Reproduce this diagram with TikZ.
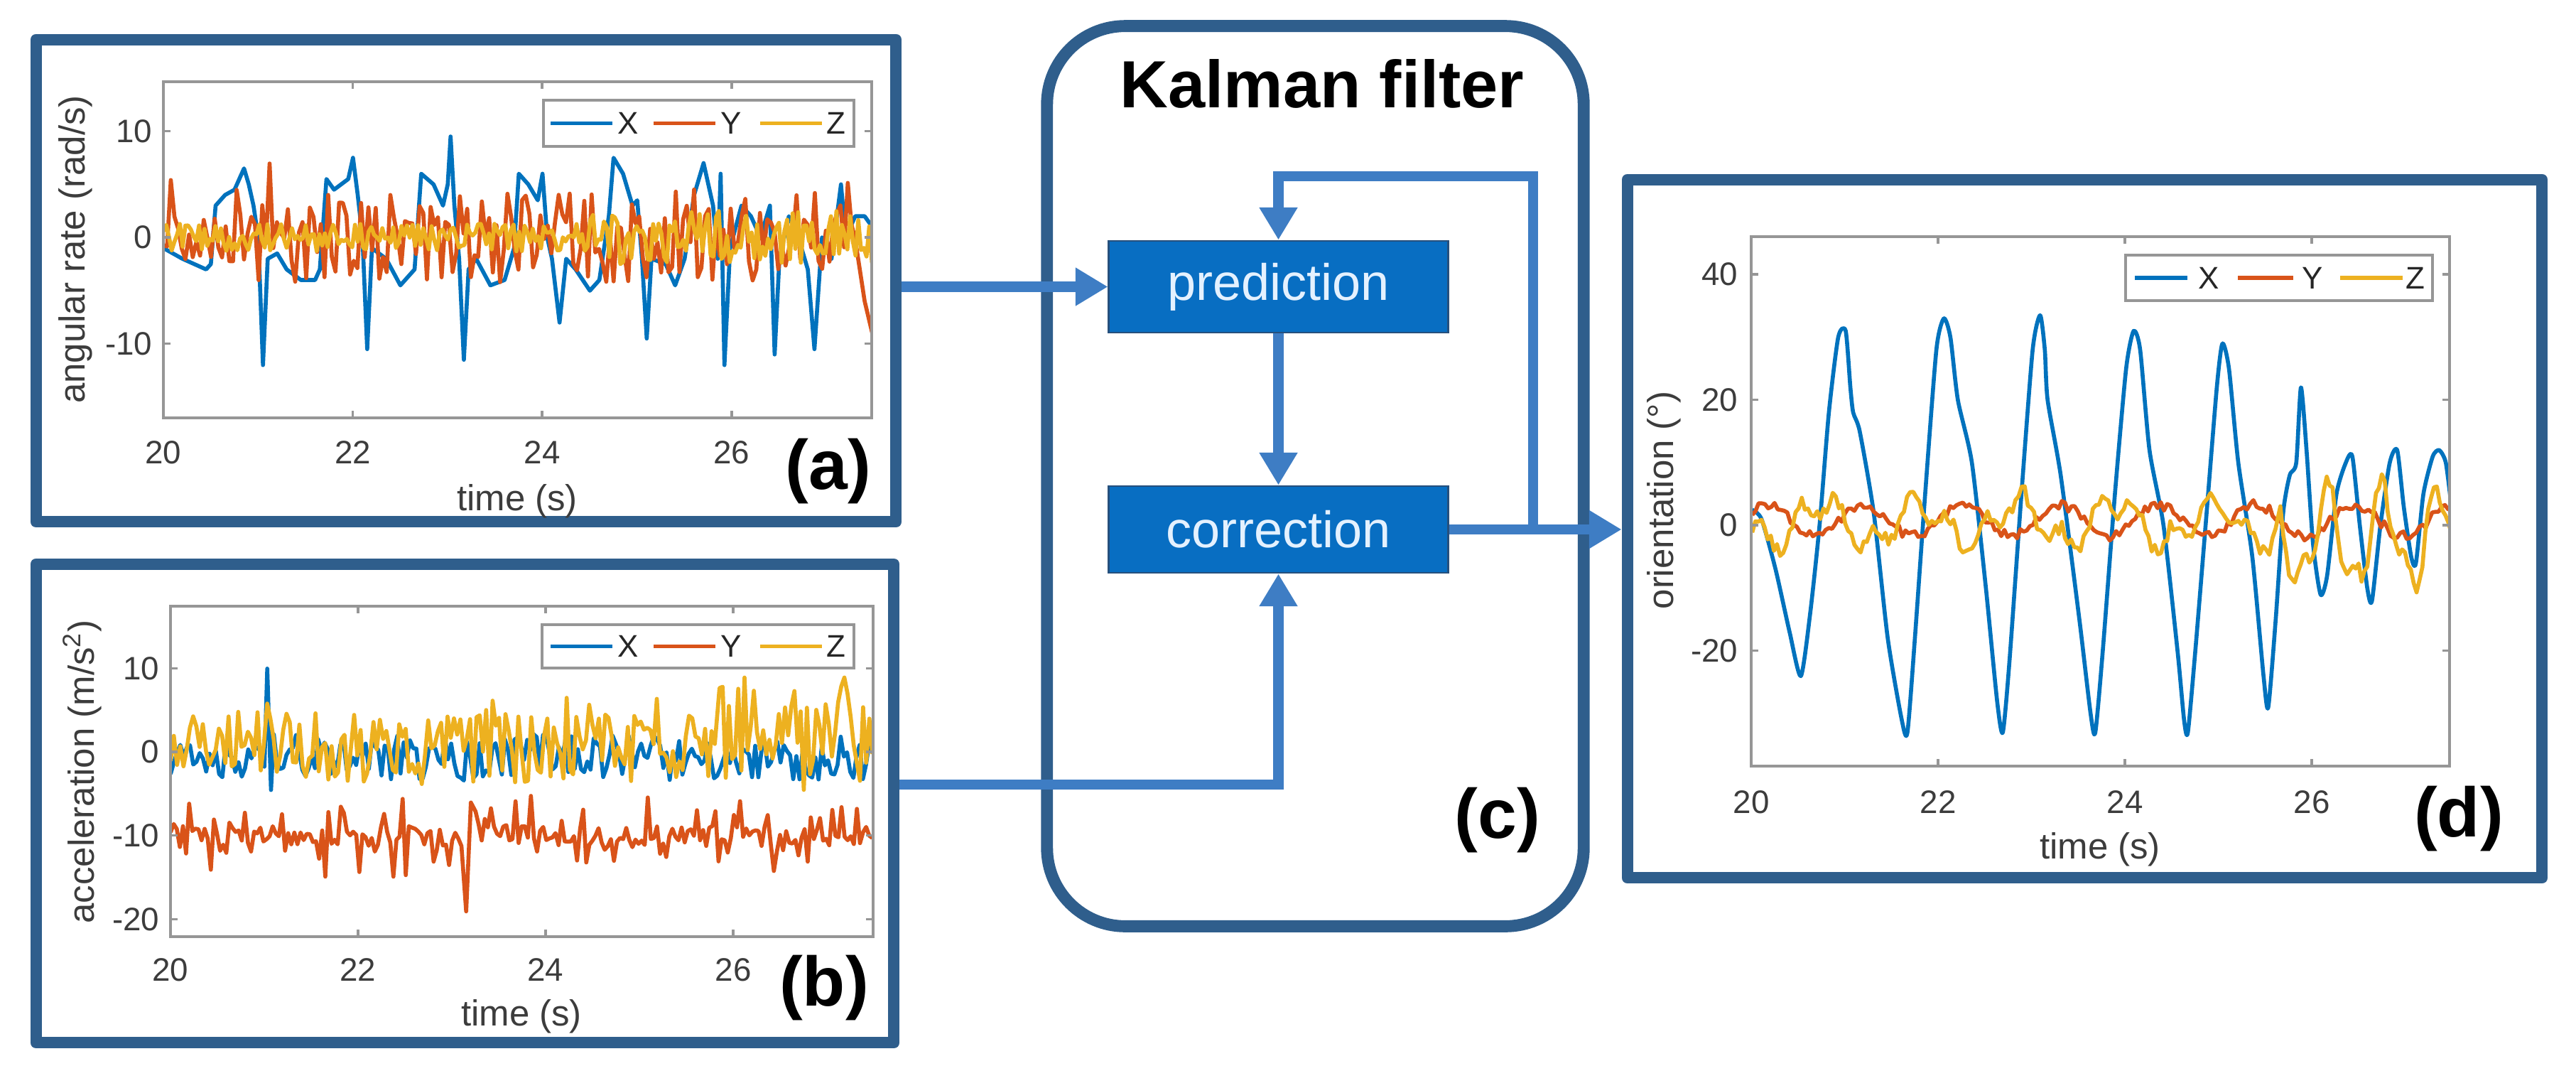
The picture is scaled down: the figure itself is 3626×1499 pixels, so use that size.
\documentclass[tikz,border=0pt]{standalone}
\usepackage{fontspec}
\setmainfont{Liberation Sans}
\usetikzlibrary{arrows.meta}
\definecolor{frameblue}{RGB}{47,94,140}
\definecolor{flowblue}{RGB}{62,125,196}
\definecolor{procblue}{RGB}{8,110,194}
\definecolor{procedge}{RGB}{38,80,125}
\definecolor{proctext}{RGB}{228,241,255}
\definecolor{mlblue}{RGB}{0,114,189}
\definecolor{mlorange}{RGB}{217,83,25}
\definecolor{mlyellow}{RGB}{237,177,32}
\definecolor{axgray}{RGB}{150,150,150}
\definecolor{ticktext}{RGB}{60,60,60}
\begin{document}
\begin{tikzpicture}[x=0.01cm,y=-0.01cm,
  panel/.style={draw=frameblue, line width=4.6pt, rectangle, inner sep=0pt, line join=round},
  kalbox/.style={draw=frameblue, line width=4.8pt, rounded corners=1.1cm, rectangle, inner sep=0pt},
  proc/.style={fill=procblue, draw=procedge, line width=0.8pt, text=proctext, font=\fontsize{20.5}{24}\selectfont, inner sep=0pt},
  flow/.style={draw=flowblue, line width=4.2pt, -{Triangle[length=13pt,width=14.5pt]}},
  axbox/.style={draw=axgray, line width=1pt},
  ticklab/.style={text=ticktext, font=\fontsize{13}{15}\selectfont, inner sep=0pt},
  axlab/.style={text=ticktext, font=\fontsize{14.5}{16}\selectfont, inner sep=0pt},
  legbox/.style={draw=axgray, fill=white, line width=1pt, inner sep=0pt},
  leglab/.style={text=black!85, font=\fontsize{12.5}{14}\selectfont, inner sep=0pt, anchor=west},
  legline/.style={line width=1.6pt},
  panlab/.style={font=\bfseries\fontsize{28}{32}\selectfont, inner sep=0pt},
  data/.style={line width=1.6pt, line join=round}]
\useasboundingbox (0,0) rectangle (3626,1499);
\fill[white] (0,0) rectangle (3626,1499);

% ---------- frames ----------
\node[panel, minimum width=12.10cm, minimum height=6.78cm] (pa) at (656,395) {};
\node[panel, minimum width=12.07cm, minimum height=6.73cm] (pb) at (654.5,1130.5) {};
\node[panel, minimum width=12.87cm, minimum height=9.82cm] (pd) at (2934.5,744) {};
\node[kalbox, minimum width=7.55cm, minimum height=12.66cm] (kal) at (1851.5,670) {};
\node[font=\bfseries\fontsize{26.7}{30}\selectfont, inner sep=0pt] (kt) at (1861,118) {Kalman filter};
\node[proc, minimum width=4.77cm, minimum height=1.29cm] (pred) at (1799.5,403.5) {prediction};
\node[proc, minimum width=4.77cm, minimum height=1.22cm] (corr) at (1799.5,745) {correction};

% ---------- panel (a) data ----------
\begin{scope}[xshift=-24.36cm, yshift=-3.34cm, x=1.333cm, y=0.1495cm]
  \clip (20,-16.99) rectangle (27.48,14.65);
  \draw[data, mlblue] plot[sharp plot] coordinates {(20,-1) (20.2,-2) (20.45,-3) (20.5,-2.5) (20.55,3) (20.65,4) (20.75,4.5) (20.85,6.5) (20.9,5) (20.95,3) (21.0,0) (21.05,-12) (21.1,-2) (21.2,-1.5) (21.3,-3) (21.45,-4) (21.6,-4) (21.65,-3) (21.72,5.5) (21.8,4.5) (21.95,5.5) (22.0,7.5) (22.05,4) (22.1,0) (22.15,-10.5) (22.2,-1) (22.35,-2) (22.5,-4.5) (22.65,-3) (22.72,6) (22.85,5) (22.95,3) (23.0,5) (23.03,9.5) (23.07,3) (23.12,-2) (23.17,-11.5) (23.22,-3) (23.3,-2) (23.45,-4.5) (23.6,-4) (23.7,-1) (23.75,6) (23.85,5) (23.95,3.5) (24.0,6) (24.05,0) (24.1,-2) (24.18,-8) (24.25,-2) (24.35,-3) (24.5,-5) (24.6,-4) (24.7,2) (24.75,7.5) (24.85,6) (24.95,3) (25.0,3.5) (25.05,-2) (25.1,-9.5) (25.15,-2) (25.3,-2.5) (25.4,-4.5) (25.5,-2) (25.6,4) (25.7,7) (25.8,3) (25.85,-2) (25.88,6) (25.92,-12) (25.98,-1) (26.1,3) (26.2,2) (26.3,0) (26.4,3) (26.45,-11) (26.5,-2) (26.6,2) (26.7,0) (26.8,-3) (26.87,-10.5) (26.95,0) (27.05,-2) (27.15,5) (27.2,0) (27.3,2) (27.4,2) (27.48,1)};
  \pgfmathsetseed{11}
  \draw[data, mlorange] plot[domain=20:27.3, samples=190] (\x,{(2.4+1.8*(\x>21))*rand + 4.5*rnd*(rnd>0.85)}) -- (27.4,-6) -- (27.48,-9);
  \pgfmathsetseed{12}
  \draw[data, mlyellow] plot[domain=20:27.48, samples=260] (\x,{(1.3+1.2*(\x>24.5))*rand});
\end{scope}
\draw[axbox] (230,115) rectangle (1227,588);
\foreach \px in {496.6,763.2,1029.8} {\draw[axbox] (\px,588) -- (\px,578); \draw[axbox] (\px,115) -- (\px,125);}
\foreach \py in {184.5,334,483.5} {\draw[axbox] (230,\py) -- (240,\py); \draw[axbox] (1227,\py) -- (1217,\py);}
\foreach \t/\px in {20/230,22/496.6,24/763.2,26/1029.8} \node[ticklab] (axa\t) at (\px,637) {\t};
\foreach \v/\py/\n in {10/184.5/a,0/334/b,-10/483.5/c} \node[ticklab, anchor=east] (aya\n) at (215,\py) {\v};
\node[axlab] (xla) at (728,705) {time (s)};
\node[axlab, rotate=90] (yla) at (106,351) {angular rate (rad/s)};
\node[legbox, minimum width=4.37cm, minimum height=0.65cm] (lega) at (983.5,173.5) {};
\draw[legline, mlblue] (775,173.5) -- (862,173.5);
\draw[legline, mlorange] (920,173.5) -- (1007,173.5);
\draw[legline, mlyellow] (1070,173.5) -- (1157,173.5);
\node[leglab] (lgax) at (869,173.5) {X};
\node[leglab] (lgay) at (1014,173.5) {Y};
\node[leglab] (lgaz) at (1163,173.5) {Z};
\node[panlab] (la) at (1166,663) {(a)};

% ---------- panel (b) data ----------
\begin{scope}[xshift=-24.0cm, yshift=-10.58cm, x=1.32cm, y=0.1177cm]
  \clip (20,-22.1) rectangle (27.49,17.4);
  \pgfmathsetseed{21}
  \draw[data, mlblue] plot[domain=20:21.0, samples=30] (\x,{-1+2*rand}) -- (21.03,10) -- (21.07,-4.5) -- plot[domain=21.1:27.48, samples=190] (\x,{-0.6+2.8*rand});
  \pgfmathsetseed{22}
  \draw[data, mlorange] plot[domain=20:23.1, samples=95] (\x,{-10+1.2*rand+4*rand*(rnd>0.6)}) -- (23.15,-19) -- (23.2,-6) -- plot[domain=23.25:27.48, samples=130] (\x,{-10+1.2*rand+4*rand*(rnd>0.6)});
  \pgfmathsetseed{23}
  \draw[data, mlyellow] plot[domain=20:25.8, samples=170] (\x,{0.5+4.3*rand+3*rnd*(rnd>0.75)}) -- plot[domain=25.85:27.48, samples=50] (\x,{1.5+6.5*rand+3*rnd});
\end{scope}
\draw[axbox] (240,853) rectangle (1229,1318);
\foreach \px in {504,768,1032} {\draw[axbox] (\px,1318) -- (\px,1308); \draw[axbox] (\px,853) -- (\px,863);}
\foreach \py in {940.3,1058,1175.7,1293.4} {\draw[axbox] (240,\py) -- (250,\py); \draw[axbox] (1229,\py) -- (1219,\py);}
\foreach \t/\px in {20/240,22/504,24/768,26/1032} \node[ticklab] (axb\t) at (\px,1365) {\t};
\foreach \v/\py/\n in {10/940.3/a,0/1058/b,-10/1175.7/c,-20/1293.4/d} \node[ticklab, anchor=east] (ayb\n) at (225,\py) {\v};
\node[axlab] (xlb) at (734,1430) {time (s)};
\node[axlab, rotate=90] (ylb) at (116,1086) {acceleration (m/s\textsuperscript{2})};
\node[legbox, minimum width=4.39cm, minimum height=0.61cm] (legb) at (982.5,909.5) {};
\draw[legline, mlblue] (775,909.5) -- (862,909.5);
\draw[legline, mlorange] (920,909.5) -- (1007,909.5);
\draw[legline, mlyellow] (1070,909.5) -- (1157,909.5);
\node[leglab] (lgbx) at (869,909.5) {X};
\node[leglab] (lgby) at (1014,909.5) {Y};
\node[leglab] (lgbz) at (1163,909.5) {Z};
\node[panlab] (lb) at (1160,1390) {(b)};

% ---------- panel (d) data ----------
\begin{scope}[xshift=-1.65cm, yshift=-7.39cm, x=1.315cm, y=0.08825cm]
  \clip (20,-38.4) rectangle (27.47,46);
  \draw[data, mlblue] plot[smooth, tension=0.4] coordinates {(20,2.5) (20.1,1) (20.25,-7) (20.4,-17) (20.52,-24) (20.62,-14) (20.72,0) (20.82,18) (20.92,30) (21.0,31) (21.05,22) (21.08,18) (21.15,15) (21.3,2) (21.45,-18) (21.6,-31) (21.66,-33) (21.74,-18) (21.85,5) (21.97,28) (22.05,33) (22.12,30) (22.2,20) (22.35,10) (22.5,-10) (22.62,-28) (22.68,-33) (22.75,-22) (22.88,5) (23.0,28) (23.08,33.5) (23.13,28) (23.16,20) (23.3,8) (23.5,-15) (23.62,-30) (23.67,-33) (23.75,-20) (23.88,5) (24.0,25) (24.08,31) (24.15,28) (24.25,12) (24.4,0) (24.55,-20) (24.62,-31) (24.66,-33) (24.74,-20) (24.85,0) (24.97,22) (25.03,29) (25.1,25) (25.2,10) (25.35,-5) (25.47,-24) (25.52,-29) (25.6,-15) (25.68,2) (25.75,8) (25.82,10) (25.87,22) (25.93,12) (26.0,-3) (26.08,-11) (26.15,-8) (26.25,5) (26.35,10) (26.42,11) (26.5,0) (26.58,-10) (26.63,-12) (26.72,0) (26.82,10) (26.9,12) (26.97,3) (27.05,-5) (27.1,-6) (27.18,5) (27.28,11) (27.35,12) (27.42,10) (27.48,3)};
  \pgfmathsetseed{31}
  \draw[data, mlorange] plot[domain=20:27.48, samples=220] (\x,{0.8+2.5*sin(343*(\x-20)+40)+0.8*rand});
  \pgfmathsetseed{32}
  \draw[data, mlyellow] plot[domain=20:25.6, samples=170] (\x,{0.5+3*sin(343*(\x-20)+200)+2*sin(900*(\x-20))+1.2*rand}) -- plot[domain=25.65:27.48, samples=60] (\x,{-2+7*sin(600*(\x-20))+3*sin(1300*(\x-20))+1.2*rand});
\end{scope}
\draw[axbox] (2465,333) rectangle (3448,1078);
\foreach \px in {2728,2991,3254} {\draw[axbox] (\px,1078) -- (\px,1068); \draw[axbox] (\px,333) -- (\px,343);}
\foreach \py in {386,562.5,739,915.5} {\draw[axbox] (2465,\py) -- (2475,\py); \draw[axbox] (3448,\py) -- (3438,\py);}
\foreach \t/\px in {20/2465,22/2728,24/2991,26/3254} \node[ticklab] (axd\t) at (\px,1129) {\t};
\foreach \v/\py/\n in {40/386/a,20/562.5/b,0/739/c,-20/915.5/d} \node[ticklab, anchor=east] (ayd\n) at (2447,\py) {\v};
\node[axlab] (xld) at (2956,1195) {time (s)};
\node[axlab, rotate=90] (yld) at (2342,704) {orientation (°)};
\node[legbox, minimum width=4.32cm, minimum height=0.64cm] (legd) at (3208,391) {};
\draw[legline, mlblue] (3005,391) -- (3079,391);
\draw[legline, mlorange] (3150,391) -- (3228,391);
\draw[legline, mlyellow] (3294,391) -- (3382,391);
\node[leglab] (lgdx) at (3094,391) {X};
\node[leglab] (lgdy) at (3240,391) {Y};
\node[leglab] (lgdz) at (3386,391) {Z};
\node[panlab] (ld) at (3461,1152) {(d)};

\node[panlab] (lc) at (2108,1154) {(c)};

% ---------- connectors ----------
\draw[flow] (pa.east |- pred.west) -- (pred.west);
\draw[flow] (pb.east |- 0,1104) -| (corr.south);
\draw[flow] (pred.south) -- (corr.north);
\draw[flow] (corr.east) -- (corr.east -| pd.west);
\coordinate (fb) at (2158,745);
\coordinate (fbtop) at (2158,248);
\draw[flow] (fb) -- (fbtop) -| (pred.north);
\end{tikzpicture}
\end{document}
